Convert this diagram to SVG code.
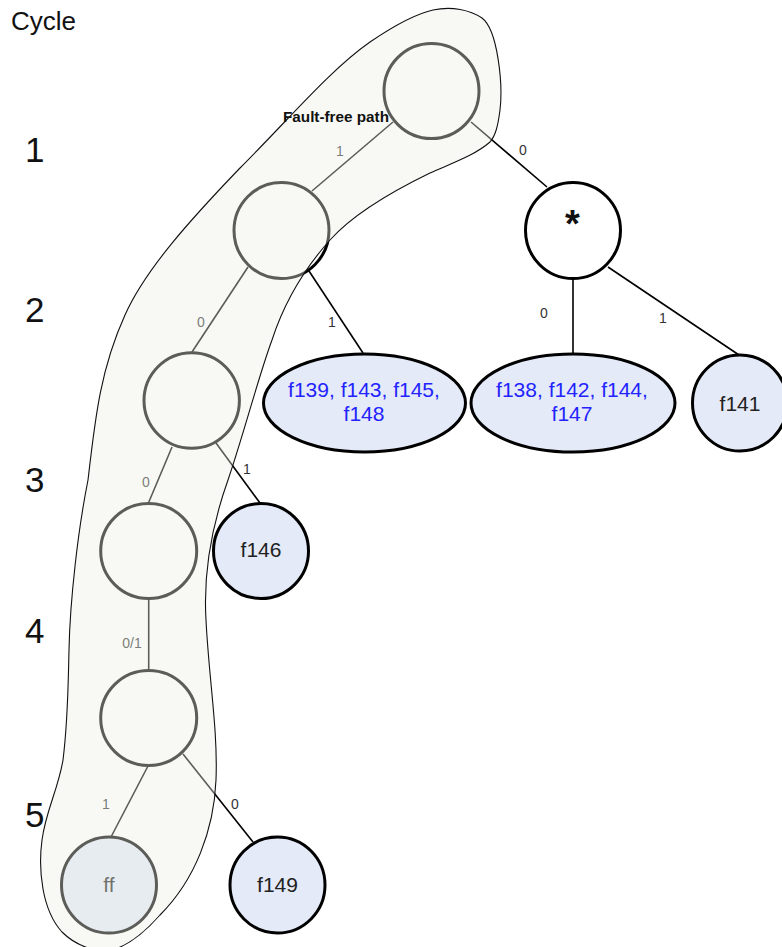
<svg xmlns="http://www.w3.org/2000/svg" width="782" height="947" viewBox="0 0 782 947">
  <style>
    .edge { stroke: #000; stroke-width: 1.6; fill: none; }
    .elabel { font-family: "Liberation Sans", Arial, sans-serif; font-size: 14px; fill: #333; text-anchor: middle; }
    .node { stroke: #000; stroke-width: 3; fill: #fff; }
    .fault { stroke: #000; stroke-width: 3; fill: #e4eaf7; }
    .ntext { font-family: "Liberation Sans", Arial, sans-serif; font-size: 21px; fill: #222; text-anchor: middle; }
    .blue { fill: #2323ff; }
    .cycle { font-family: "Liberation Sans", Arial, sans-serif; font-size: 35px; fill: #111; }
    .hull { fill: rgb(238,240,230); fill-opacity: 0.39; stroke: none; }
    .hullline { fill: none; stroke: #111; stroke-width: 1.1; }
  </style>

  <!-- cycle axis -->
  <g id="cycle-axis">
    <text x="11" y="29.5" font-family="Liberation Sans, Arial, sans-serif" font-size="26" fill="#111">Cycle</text>
    <text class="cycle" x="25" y="162">1</text>
    <text class="cycle" x="25" y="322">2</text>
    <text class="cycle" x="25" y="492">3</text>
    <text class="cycle" x="25" y="643">4</text>
    <text class="cycle" x="25" y="827">5</text>
  </g>

  <!-- connectors -->
  <g id="connectors">
    <line class="edge" x1="393" y1="122" x2="312" y2="191"/>
    <line class="edge" x1="471" y1="122" x2="547" y2="187"/>
    <line class="edge" x1="309" y1="271" x2="363" y2="353"/>
    <line class="edge" x1="248" y1="267" x2="192" y2="352"/>
    <line class="edge" x1="573" y1="279" x2="573" y2="353"/>
    <line class="edge" x1="608" y1="267" x2="739" y2="355"/>
    <line class="edge" x1="172" y1="447" x2="148" y2="504"/>
    <line class="edge" x1="216" y1="443" x2="260" y2="503"/>
    <line class="edge" x1="148.7" y1="598" x2="148.7" y2="671"/>
    <line class="edge" x1="148" y1="766" x2="111" y2="837"/>
    <line class="edge" x1="183" y1="754" x2="253" y2="842"/>

    <text class="elabel" x="340" y="156">1</text>
    <text class="elabel" x="523" y="155">0</text>
    <text class="elabel" x="332" y="327">1</text>
    <text class="elabel" x="201" y="327">0</text>
    <text class="elabel" x="544" y="318">0</text>
    <text class="elabel" x="663" y="323">1</text>
    <text class="elabel" x="146" y="487">0</text>
    <text class="elabel" x="247" y="474">1</text>
    <text class="elabel" x="132" y="648">0/1</text>
    <text class="elabel" x="106" y="809">1</text>
    <text class="elabel" x="235" y="809">0</text>
  </g>

  <!-- tree nodes -->
  <g id="root"><ellipse class="node" cx="431.5" cy="91" rx="47.5" ry="47.5"/></g>
  <g id="n2"><ellipse class="node" cx="281.5" cy="230.5" rx="47.5" ry="48"/></g>
  <g id="star">
    <ellipse class="node" cx="573" cy="230.5" rx="47.5" ry="48"/>
    <text x="572.5" y="237" font-family="Liberation Sans, Arial, sans-serif" font-size="38" font-weight="bold" fill="#111" text-anchor="middle">*</text>
  </g>
  <g id="f139-group">
    <ellipse class="fault" cx="364.5" cy="403" rx="101" ry="49"/>
    <text class="ntext blue" x="364" y="396.5">f139, f143, f145,</text>
    <text class="ntext blue" x="364" y="420.5">f148</text>
  </g>
  <g id="f138-group">
    <ellipse class="fault" cx="573" cy="403" rx="102" ry="49"/>
    <text class="ntext blue" x="572" y="396.5">f138, f142, f144,</text>
    <text class="ntext blue" x="572" y="420.5">f147</text>
  </g>
  <g id="f141">
    <ellipse class="fault" cx="740" cy="403" rx="47.5" ry="48"/>
    <text class="ntext" x="740" y="411">f141</text>
  </g>
  <g id="n3"><ellipse class="node" cx="191.7" cy="400.5" rx="47.7" ry="47.8"/></g>
  <g id="n4"><ellipse class="node" cx="148.7" cy="551" rx="48" ry="47.5"/></g>
  <g id="f146">
    <ellipse class="fault" cx="261" cy="551" rx="47.5" ry="47.5"/>
    <text class="ntext" x="261" y="557">f146</text>
  </g>
  <g id="n5"><ellipse class="node" cx="148.7" cy="718" rx="48" ry="47.5"/></g>
  <g id="ff">
    <ellipse class="fault" cx="109" cy="885" rx="47.5" ry="48"/>
    <text class="ntext" x="109" y="892">ff</text>
  </g>
  <g id="f149">
    <ellipse class="fault" cx="277.5" cy="885" rx="47.5" ry="48"/>
    <text class="ntext" x="277.5" y="892">f149</text>
  </g>

  <!-- fault-free path region, laid over the nodes it encloses -->
  <g id="fault-free-path">
    <path class="hull" d="M 433,10 C 452,6 470,10 482,18 C 498,30 503,85 500,110 C 498,125 496,135 490,142 C 475,155 455,162 430,173 C 395,190 355,212 330,240 C 305,268 285,300 272,340 C 258,378 245,430 228,480 C 212,525 203,570 206,620 C 209,680 218,730 216,780 C 214,830 195,880 160,915 C 145,932 130,945 112,950 C 95,953 75,945 62,932 C 42,910 38,870 42,840 C 46,810 58,790 63,760 C 68,720 68,690 69,650 C 70,600 78,530 88,480 C 95,420 100,370 125,315 C 145,270 190,220 240,168 C 290,118 330,70 370,42 C 395,25 415,14 433,10 Z"/>
    <path class="hullline" d="M 433,10 C 452,6 470,10 482,18 C 498,30 503,85 500,110 C 498,125 496,135 490,142 C 475,155 455,162 430,173 C 395,190 355,212 330,240 C 305,268 285,300 272,340 C 258,378 245,430 228,480 C 212,525 203,570 206,620 C 209,680 218,730 216,780 C 214,830 195,880 160,915 C 145,932 130,945 112,950 C 95,953 75,945 62,932 C 42,910 38,870 42,840 C 46,810 58,790 63,760 C 68,720 68,690 69,650 C 70,600 78,530 88,480 C 95,420 100,370 125,315 C 145,270 190,220 240,168 C 290,118 330,70 370,42 C 395,25 415,14 433,10 Z"/>
    <text x="283" y="122" font-family="Liberation Sans, Arial, sans-serif" font-size="14" font-weight="bold" fill="#111" textLength="106" lengthAdjust="spacingAndGlyphs">Fault-free path</text>
  </g>
</svg>
